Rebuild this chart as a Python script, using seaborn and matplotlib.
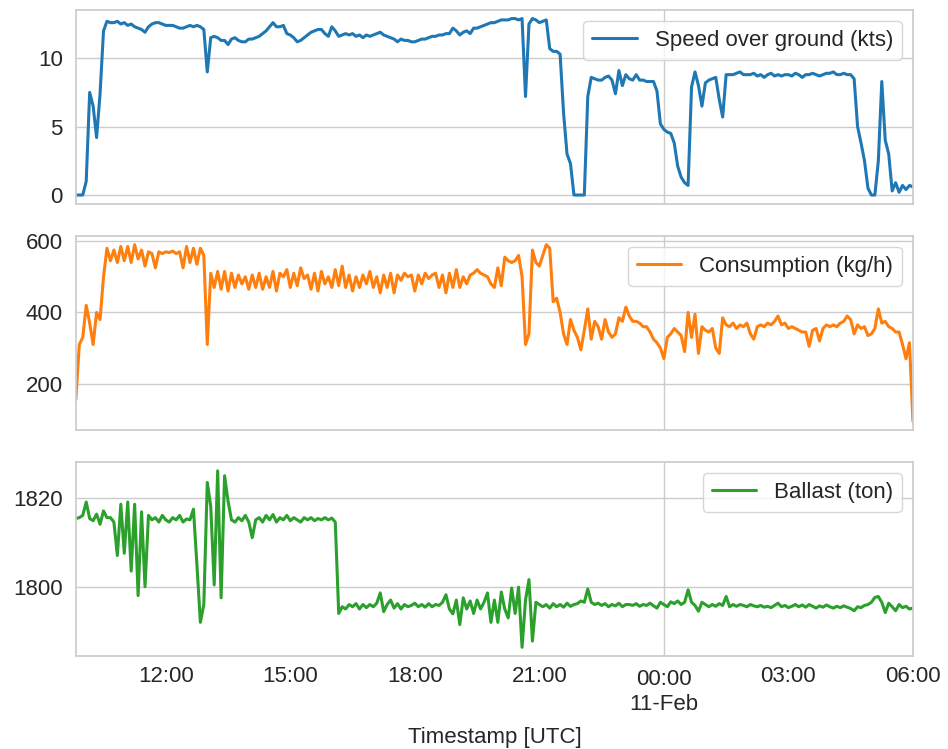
import pandas as pd
import matplotlib
matplotlib.use("Agg")
import matplotlib.pyplot as plt
import matplotlib.dates as mdates
import seaborn as sns

# Sampling of the voyage log (5-minute resolution, UTC)
start_time = "2021-02-10 09:50"
sample_freq = "5min"

speed_kts = [
    0, 0, 0, 1.0, 7.5, 6.5, 4.2, 7.4, 12.0, 12.7,
    12.6, 12.6, 12.7, 12.5, 12.6, 12.4, 12.5, 12.3, 12.2, 12.1,
    11.9, 12.3, 12.5, 12.6, 12.6, 12.5, 12.4, 12.4, 12.4, 12.3,
    12.2, 12.2, 12.3, 12.4, 12.3, 12.4, 12.3, 12.1, 9.0, 11.5,
    11.6, 11.5, 11.3, 11.3, 11.0, 11.4, 11.5, 11.3, 11.2, 11.2,
    11.4, 11.4, 11.5, 11.6, 11.8, 12.0, 12.3, 12.6, 12.3, 12.3,
    12.4, 11.8, 11.7, 11.5, 11.2, 11.3, 11.5, 11.7, 11.9, 12.0,
    12.1, 12.1, 11.8, 11.6, 12.3, 12.0, 11.6, 11.7, 11.8, 11.7,
    11.8, 11.6, 11.7, 11.5, 11.7, 11.6, 11.7, 11.8, 11.9, 11.7,
    11.6, 11.5, 11.4, 11.2, 11.4, 11.3, 11.3, 11.2, 11.2, 11.3,
    11.4, 11.4, 11.5, 11.6, 11.6, 11.7, 11.7, 11.8, 11.8, 12.2,
    12.0, 11.7, 11.9, 12.0, 11.8, 12.2, 12.2, 12.3, 12.4, 12.5,
    12.6, 12.6, 12.7, 12.8, 12.8, 12.8, 12.9, 12.9, 12.8, 12.9,
    7.2, 12.5, 12.9, 12.8, 12.6, 12.7, 12.8, 10.7, 10.5, 10.5,
    10.3, 6.0, 3.0, 2.3, 0, 0, 0, 0, 7.2, 8.6,
    8.5, 8.4, 8.4, 8.6, 8.7, 8.4, 7.4, 9.1, 8.0, 8.8,
    8.5, 8.4, 8.8, 8.4, 8.4, 8.3, 8.3, 8.3, 7.6, 5.2,
    4.8, 4.6, 4.5, 3.8, 2.1, 1.3, 0.9, 0.7, 7.9, 9.0,
    8.0, 6.5, 8.2, 8.4, 8.5, 8.6, 7.0, 5.7, 8.8, 8.8,
    8.8, 8.9, 9.0, 8.8, 8.8,
    8.8, 8.9, 8.7, 8.8, 8.6, 8.8, 8.9, 8.7, 8.8, 8.7,
    8.8, 8.8, 8.7, 8.9, 8.8, 8.6, 8.8, 8.8, 8.9, 8.8,
    8.7, 8.8, 8.9, 8.9, 9.0, 8.8, 8.8, 8.9,
    8.8, 8.8, 8.5, 5.0, 3.8, 2.5, 0.5, 0, 0, 2.5,
    8.3, 4.0, 3.0, 0.3, 0.9, 0.2, 0.7, 0.4, 0.7, 0.6,
]

consumption_kgh = [
    155, 310, 330, 420, 370, 310, 400, 380, 500, 580,
    545, 575, 540, 585, 545, 585, 540, 590, 550, 575,
    530, 570, 565, 525, 570, 565, 570, 568, 572, 565,
    570, 525, 585, 540, 580, 535, 580, 560, 310, 510,
    470, 515, 465, 515, 460, 510, 470, 505, 480, 500,
    465, 505, 470, 510, 465, 500, 470, 515, 460, 510,
    500, 520, 470, 510, 475, 525, 495, 505, 465, 510,
    460, 515, 480, 500, 470, 520, 475, 530, 470, 505,
    460, 500, 470, 505, 480, 515, 470, 500, 455, 505,
    470, 510, 455, 505, 490, 510, 500, 505, 460, 505,
    480, 510, 495, 505, 510, 470, 505, 455, 510, 470,
    520, 470, 500, 480, 505, 510, 520, 510, 505, 500,
    480, 470, 525, 475, 555, 545, 540, 545, 560, 500,
    310, 340, 575, 540, 530, 560, 590, 580, 430, 440,
    400, 340, 310, 380, 350, 330, 295, 350, 410, 325,
    375, 360, 325, 380, 345, 330, 340, 385, 375, 415,
    390, 375, 375, 370, 360, 360, 345, 325, 315, 300,
    270, 330, 340, 355, 345, 335, 290, 400, 330, 395,
    285, 360, 350, 345, 355, 300, 285, 385, 365, 360,
    370, 355, 365, 360, 370, 340, 325, 360, 365, 360,
    370, 365, 375, 390, 365, 370, 355, 360, 355, 350,
    345, 345, 305, 350, 355, 320, 355, 365, 360, 365,
    360, 370, 375, 390, 380, 340, 365, 355, 360, 335,
    340, 355, 410, 370, 375, 360, 355, 345, 345, 310,
    270, 315, 95,
]

ballast_ton = [
    1815.3, 1815.5, 1816, 1819, 1815.3, 1814.8, 1816.3, 1814, 1817, 1815.5,
    1815.5, 1814.5, 1807, 1818.5, 1807.5, 1819, 1803.5, 1818.5, 1798, 1816.8,
    1800, 1816, 1815, 1815.5, 1814.5, 1816, 1815, 1814.5, 1815.5, 1815,
    1816, 1814.5, 1815.2, 1815, 1817.4, 1805, 1792, 1796, 1823.4, 1818,
    1800.4, 1826, 1797.5, 1824.9, 1819.2, 1815, 1814.5, 1815.5, 1814.8, 1816,
    1814.5, 1811, 1815, 1815.5, 1814.5, 1816, 1815, 1816.2, 1814.5, 1815.5,
    1815, 1816, 1814.8, 1815.5, 1815, 1814.5, 1815.5, 1815, 1815.5, 1814.8,
    1815.3, 1815, 1815.5, 1815, 1815.4, 1814.5, 1794, 1795.5, 1795, 1796,
    1795.5, 1796.2, 1795, 1796, 1795.3, 1796, 1795.5, 1796.3, 1798.6, 1794.4,
    1796, 1797, 1795.2, 1796.2, 1795, 1796, 1795.5, 1795.8, 1796.3, 1795.5,
    1796, 1795.4, 1796.2, 1795.5, 1796, 1795.8, 1796.5, 1798.2, 1795, 1793.9,
    1797, 1791.5, 1797.5, 1795, 1796.8, 1794, 1797, 1795, 1796.5, 1798.6,
    1792, 1797, 1792, 1798.8, 1795, 1793, 1799.7, 1794, 1799.9, 1786.4,
    1797, 1801.6, 1787.8, 1796.5, 1796, 1795.5, 1796, 1795.2, 1796.2, 1795.5,
    1796, 1795.4, 1796.3, 1795.6, 1796, 1796.2, 1796.8, 1796.5, 1799.5, 1796.5,
    1796, 1796.3, 1795.8, 1796.2, 1795.5, 1796, 1795.7, 1796.3, 1795.5, 1796,
    1796, 1795.8, 1796.2, 1795.6, 1796, 1795.8, 1796.3, 1795.7, 1795.2, 1796.5,
    1796, 1795.5, 1796.6, 1796.2, 1796.8, 1796, 1796.5, 1799.3, 1796.5, 1795.8,
    1794.5, 1796.5, 1796, 1795.5, 1796, 1795.6, 1796.2, 1795.8, 1797.8, 1795.5,
    1796, 1795.6, 1796, 1795.8, 1795.5, 1796, 1795.7, 1795.5, 1795.8, 1795.4,
    1795.6, 1795.3, 1795.8, 1796.3, 1795.5, 1795.8, 1795.3, 1795.6, 1796, 1795.5,
    1795.9, 1795.4, 1796, 1795.6, 1795.2, 1795.7, 1795.4, 1795.9, 1795.5, 1795.2,
    1795.6, 1795.3, 1795.7, 1795.4, 1795.1, 1794.6, 1795.5, 1795.3, 1795.8, 1796,
    1796.5, 1797.6, 1797.8, 1796.5, 1794.2, 1796.3, 1795.5, 1794.6, 1796, 1795.3,
    1795.6, 1795, 1795.2,
]

series_names = ["Speed over ground (kts)", "Consumption (kg/h)", "Ballast (ton)"]
series_colors = ["#1f77b4", "#ff7f0e", "#2ca02c"]
y_ticks = [[0, 5, 10], [200, 400, 600], [1800, 1820]]

sns.set_theme(style="whitegrid")
plt.rcParams["font.family"] = ["Liberation Sans", "DejaVu Sans"]

timestamps = pd.date_range(start_time, periods=len(speed_kts), freq=sample_freq)
log = pd.DataFrame(
    {
        series_names[0]: speed_kts,
        series_names[1]: consumption_kgh,
        series_names[2]: ballast_ton,
    },
    index=timestamps,
)

FS = 16
fig, axes = plt.subplots(3, 1, figsize=(9.48, 7.49), dpi=100, sharex=True)
fig.subplots_adjust(left=0.080, right=0.963, top=0.987, bottom=0.124, hspace=0.165)

for ax, name, color, ticks in zip(axes, series_names, series_colors, y_ticks):
    sns.lineplot(x=log.index, y=log[name], ax=ax, color=color, linewidth=2.2, label=name)
    ax.set_ylabel("")
    ax.set_yticks(ticks)
    ax.tick_params(axis="both", which="both", labelsize=FS)
    ax.legend(loc="upper right", fontsize=FS)

bottom_ax = axes[-1]
bottom_ax.xaxis.set_major_locator(mdates.DayLocator())
bottom_ax.xaxis.set_major_formatter(mdates.DateFormatter("%H:%M\n%d-%b"))
bottom_ax.xaxis.set_minor_locator(mdates.HourLocator(byhour=[3, 6, 9, 12, 15, 18, 21]))
bottom_ax.xaxis.set_minor_formatter(mdates.DateFormatter("%H:%M"))
bottom_ax.set_xlim(timestamps[0], timestamps[-1])
bottom_ax.set_xlabel("Timestamp [UTC]", fontsize=FS, labelpad=9)
for ax in axes[:-1]:
    ax.tick_params(axis="x", which="both", labelbottom=False)

fig.savefig("out.png", dpi=100)
